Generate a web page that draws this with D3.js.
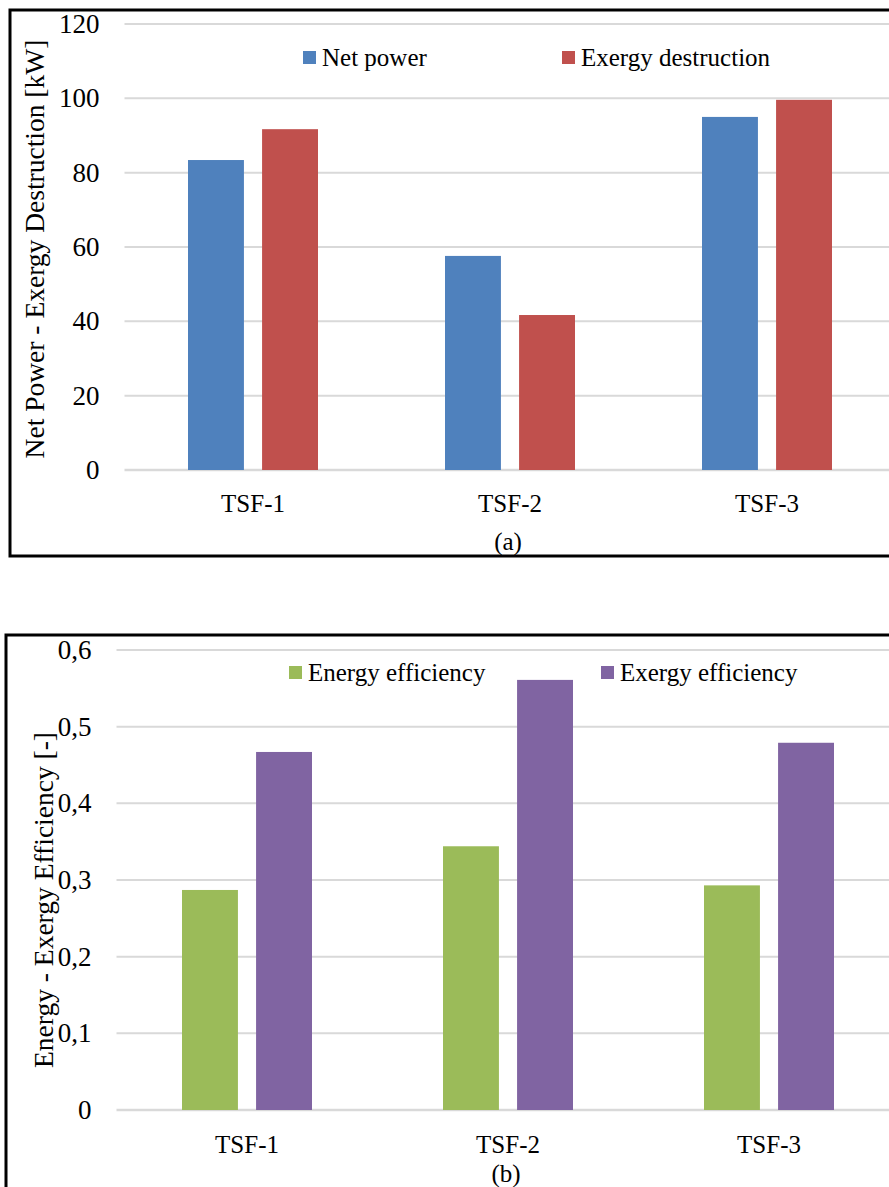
<!DOCTYPE html>
<html>
<head>
<meta charset="utf-8">
<script src="https://cdn.jsdelivr.net/npm/d3@7"></script>
<style>
  body { margin: 0; background: #fff; }
  svg { display: block; }
  text { font-family: "Liberation Serif", "DejaVu Serif", serif; fill: #000; }
</style>
</head>
<body>
<div id="chart"></div>
<script>
// data
var categories = ["TSF-1", "TSF-2", "TSF-3"];

var netPower = [83.4, 57.6, 95.0];
var exergyDestruction = [91.7, 41.7, 99.6];
var powerTicks = [0, 20, 40, 60, 80, 100, 120];

var energyEff = [0.287, 0.344, 0.293];
var exergyEff = [0.467, 0.561, 0.479];
var effTicks = [0, 0.1, 0.2, 0.3, 0.4, 0.5, 0.6];

var svg = d3.select("#chart").append("svg")
  .attr("width", 889)
  .attr("height", 1187);

function drawPanel(opt) {
  var g = svg.append("g");

  // outer frame
  g.append("rect")
    .attr("x", opt.frame[0])
    .attr("y", opt.frame[1])
    .attr("width", opt.frame[2])
    .attr("height", opt.frame[3])
    .attr("fill", "none")
    .attr("stroke", "#000")
    .attr("stroke-width", 3);

  var x = d3.scaleBand()
    .domain(categories)
    .range([opt.left, opt.right]);

  var y = d3.scaleLinear()
    .domain([0, d3.max(opt.ticks)])
    .range([opt.bottom, opt.top]);

  var inner = d3.scaleBand()
    .domain([0, 1])
    .range([0, 130])
    .paddingInner(0.245);

  // gridlines
  g.selectAll(".grid")
    .data(opt.ticks)
    .enter().append("line")
    .attr("x1", opt.left)
    .attr("x2", opt.right)
    .attr("y1", function (d) { return y(d); })
    .attr("y2", function (d) { return y(d); })
    .attr("stroke", "#d9d9d9")
    .attr("stroke-width", function (d) { return d === 0 ? 2.5 : 2; });

  // y axis labels
  var yAxis = d3.axisLeft(y)
    .tickValues(opt.ticks)
    .tickSize(0)
    .tickPadding(25)
    .tickFormat(opt.fmt);

  g.append("g")
    .attr("transform", "translate(" + opt.left + ",0)")
    .call(yAxis)
    .call(function (a) {
      a.select(".domain").remove();
      a.selectAll("text")
        .attr("font-family", "Liberation Serif, serif")
        .attr("font-size", 27)
        .attr("fill", "#000");
    });

  // x axis labels
  var xAxis = d3.axisBottom(x).tickSize(0).tickPadding(opt.catPad);
  g.append("g")
    .attr("transform", "translate(0," + opt.bottom + ")")
    .call(xAxis)
    .call(function (a) {
      a.select(".domain").remove();
      a.selectAll("text")
        .attr("font-family", "Liberation Serif, serif")
        .attr("font-size", 25)
        .attr("fill", "#000");
    });

  // bars
  opt.series.forEach(function (s, i) {
    g.selectAll(".bar" + i)
      .data(s.values)
      .enter().append("rect")
      .attr("x", function (d, j) {
        return x(categories[j]) + (x.bandwidth() - 130) / 2 + inner(i);
      })
      .attr("y", function (d) { return y(d); })
      .attr("width", inner.bandwidth())
      .attr("height", function (d) { return y(0) - y(d); })
      .attr("fill", s.color);

    // legend
    g.append("rect")
      .attr("x", s.legendX)
      .attr("y", opt.legendY - 13)
      .attr("width", 13)
      .attr("height", 13)
      .attr("fill", s.color);
    g.append("text")
      .attr("x", s.legendX + 19)
      .attr("y", opt.legendY + 2)
      .attr("font-size", 25)
      .text(s.name);
  });

  // y title
  g.append("text")
    .attr("transform", "translate(" + opt.titleX + "," + opt.titleY + ") rotate(-90)")
    .attr("text-anchor", "middle")
    .attr("font-size", 27.5)
    .text(opt.yTitle);

  // panel caption
  g.append("text")
    .attr("x", (opt.left + opt.right) / 2 - 2)
    .attr("y", opt.captionY)
    .attr("text-anchor", "middle")
    .attr("font-size", 25)
    .text(opt.caption);
}

var commaFmt = function (d) { return d === 0 ? "0" : d3.format(".1f")(d).replace(".", ","); };

drawPanel({
  frame: [10, 10, 900, 546],
  left: 124.5, right: 895.5, top: 24, bottom: 470,
  ticks: powerTicks,
  fmt: d3.format("d"),
  catPad: 24,
  series: [
    { name: "Net power", values: netPower, color: "#4f81bd", legendX: 303 },
    { name: "Exergy destruction", values: exergyDestruction, color: "#c0504d", legendX: 562 }
  ],
  legendY: 64,
  yTitle: "Net Power - Exergy Destruction [kW]",
  titleX: 44,
  titleY: 249,
  caption: "(a)",
  captionY: 550
});

drawPanel({
  frame: [6, 635, 900, 600],
  left: 116.5, right: 899.5, top: 650, bottom: 1110,
  ticks: effTicks,
  fmt: commaFmt,
  catPad: 25,
  series: [
    { name: "Energy efficiency", values: energyEff, color: "#9bbb59", legendX: 289 },
    { name: "Exergy efficiency", values: exergyEff, color: "#8064a2", legendX: 601 }
  ],
  legendY: 679,
  yTitle: "Energy - Exergy Efficiency [-]",
  titleX: 53,
  titleY: 900,
  caption: "(b)",
  captionY: 1182
});
</script>
</body>
</html>
